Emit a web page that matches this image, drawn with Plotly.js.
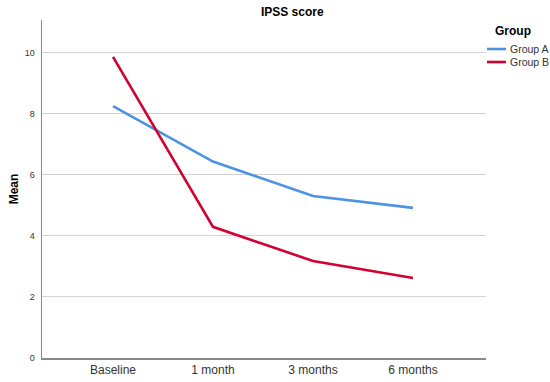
<!DOCTYPE html>
<html>
<head>
<meta charset="utf-8">
<script src="https://cdn.plot.ly/plotly-3.0.1.min.js"></script>
<style>html,body{margin:0;padding:0;background:#fff}#chart{width:550px;height:382px}</style>
</head>
<body>
<div id="chart"></div>
<script>
const categories = ["Baseline", "1 month", "3 months", "6 months"];
const groupA = [8.26, 6.44, 5.31, 4.92];
const groupB = [9.87, 4.30, 3.18, 2.62];
const seriesNames = ["Group A", "Group B"];
const yTicks = [0, 2, 4, 6, 8, 10];

const blue = "#4C93E6";
const red = "#D4002F";
const font = "Liberation Sans, Arial, sans-serif";

const traces = [
  {x: categories, y: groupA, name: seriesNames[0], type: "scatter", mode: "lines",
   line: {color: blue, width: 2.6}, showlegend: false},
  {x: categories, y: groupB, name: seriesNames[1], type: "scatter", mode: "lines",
   line: {color: red, width: 2.6}, showlegend: false}
];

const legendY = [49, 62];
const H = 382, W = 550;
const shapes = [];
const annotations = [
  {text: "<b>Group</b>", xref: "paper", yref: "paper", showarrow: false,
   x: (513 - 42) / 444, y: 1 - (31 - 20) / 338, xanchor: "center", yanchor: "middle",
   font: {family: font, size: 12, color: "#000"}}
];
seriesNames.forEach((n, i) => {
  const py = legendY[i];
  const yp = 1 - (py - 20) / 338;
  shapes.push({type: "line", xref: "paper", yref: "paper",
    x0: (487 - 42) / 444, x1: (506 - 42) / 444, y0: yp, y1: yp,
    line: {color: [blue, red][i], width: 2.6}});
  annotations.push({text: n, xref: "paper", yref: "paper", showarrow: false,
    x: (508 - 42) / 444, y: yp, xanchor: "left", yanchor: "middle",
    font: {family: font, size: 10.5, color: "#333"}});
});

const layout = {
  width: W, height: H,
  margin: {l: 42, r: 64, t: 20, b: 24},
  paper_bgcolor: "#fff", plot_bgcolor: "#fff",
  font: {family: font, color: "#333"},
  title: {text: "<b>IPSS score</b>", font: {family: font, size: 12, color: "#000"},
          x: 310 / W, xanchor: "center", xref: "paper", y: 1 - 12 / H, yanchor: "middle"},
  showlegend: false,
  xaxis: {
    type: "category", range: [-0.71, 3.73],
    showgrid: false, zeroline: false,
    showline: true, linecolor: "#888", linewidth: 1.5,
    ticks: "", tickfont: {family: font, size: 12, color: "#333"},
    fixedrange: true
  },
  yaxis: {
    range: [0, 11.08], tickvals: yTicks, ticktext: yTicks.map(String),
    showgrid: true, gridcolor: "#d3d3d3", gridwidth: 1,
    zeroline: false, showline: true, linecolor: "#888", linewidth: 1.5,
    ticks: "", ticklabelstandoff: 4,
    tickfont: {family: font, size: 9, color: "#333"},
    title: {text: "<b>Mean</b>", font: {family: font, size: 12, color: "#000"}, standoff: 3},
    fixedrange: true
  },
  shapes: shapes,
  annotations: annotations
};

Plotly.newPlot("chart", traces, layout, {displayModeBar: false, staticPlot: true});
</script>
</body>
</html>
